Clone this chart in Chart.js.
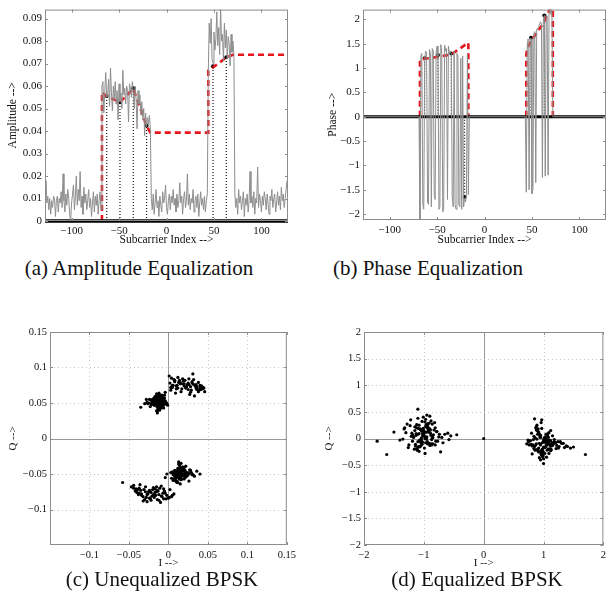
<!DOCTYPE html>
<html>
<head>
<meta charset="utf-8">
<script src="https://cdn.jsdelivr.net/npm/chart.js@4.4.1/dist/chart.umd.min.js"></script>
<style>
  body { margin: 0; background: #fff; }
  #fig { position: relative; width: 610px; height: 603px; overflow: hidden; background: #fff; }
  canvas { position: absolute; }
  .cap { position: absolute; width: 300px; text-align: center; font-family: "Liberation Serif", serif; font-size: 21px; line-height: 24px; color: #111; white-space: nowrap; }
</style>
</head>
<body>
<div id="fig">
  <canvas id="ampChart" width="300" height="250" style="left:0;top:0"></canvas>
  <canvas id="phaseChart" width="310" height="250" style="left:300px;top:0"></canvas>
  <canvas id="rawChart" width="300" height="260" style="left:0;top:320px"></canvas>
  <canvas id="eqChart" width="310" height="260" style="left:300px;top:320px"></canvas>
  <div class="cap" style="left:-11px;top:256px">(a) Amplitude Equalization</div>
  <div class="cap" style="left:278px;top:256px">(b) Phase Equalization</div>
  <div class="cap" style="left:12px;top:567px">(c) Unequalized BPSK</div>
  <div class="cap" style="left:327px;top:567px">(d) Equalized BPSK</div>
</div>
<script>
// ---- (a) amplitude per subcarrier, in thousandths ----
const ampNoiseLeft = [13,18,8,11,5,10,3,9,6,11, 10,2,9,11,4,10,8,13,6,21, 9,4,12,7,14,10,3,0,8,12, 16,5,11,20,7,14,9,22,6,11, 3,15,8,12,5,9,14,6,10,2, 8,13,4,11,7,12,3,9,13,5];
const ampBand1 = [60,62,48,58,66,55,56,63,51,68, 57,49,60,54,62,52,58,45,61,53, 57,50,67,56,59,52,60,58,44,61, 59,55,62,57,50,60,54,41,58,52, 56,47,53,45,50,38,48,42,46,43, 47,41];
const ampNoiseMid = [10,5,12,3,8,14,6,9,2,11, 7,4,13,8,10,16,6,3,9,12, 5,11,8,14,7,10,4,12,6,9, 17,8,11,3,10,13,6,9,21,7, 12,5,10,8,14,4,9,11,6,12, 2,8,13,7,10,5,11,4,9,12];
const ampBand2 = [66,88,79,90,72,70,84,76,81,93, 78,86,74,95,80,83,71,88,77,85, 72,82,79,69,83,75,80,74];
const ampNoiseRight = [12,6,10,3,14,8,11,5,9,13, 2,10,7,12,4,9,22,8,11,6, 13,3,10,8,24,6,12,9,4,11, 7,13,10,5,12,8,3,11,9,14, 6,10,12,4,8,13,7,11,5,15, 9,12,6,10,14,18];
const ampSegStart = [-128, -68, -16, 44, 72];

const ampEqX = [-68, -68, -63, -49, -35, -21, -17, 44, 44, 49, 63, 70, 128];
const ampEqY = [0, 0.0573, 0.0554, 0.0529, 0.0588, 0.0424, 0.0393, 0.0393, 0.0668, 0.0683, 0.0727, 0.0739, 0.0739];

const pilotIdx = [-63, -49, -35, -21, 49, 63];
const ampPilot = [0.0556, 0.0528, 0.059, 0.0425, 0.0688, 0.0728];

// ---- (b) phase per subcarrier ----
const phaseBand1 = [-2.1,1.25,1.3,-1.8,-1.9,1.2,1.35,1.3,-1.75,-1.8, 1.38,1.3,-1.85,1.4,1.35,-1.6,-1.7,1.3,1.45,1.25, -1.9,-1.85,1.48,1.3,-1.95,-1.9,1.47,1.35,1.4,-1.7, 1.45,1.3,1.35,1.28,-1.65,-1.85,1.35,-1.8,-1.9,1.3, 1.25,-1.8,-1.85,1.2,-1.9,1.25,-1.85,-1.67,-1.75,-1.6, 1.28,-1.6];
const phaseBand2 = [-1.55,1.45,1.6,-1.5,1.62,1.6,-1.58,-1.5,1.7,1.75, -1.35,1.8,1.8,1.85,1.9,1.95,1.9,-1.25,2.0,2.08, -1.22,2.1,2.05,-1.2,2.15,2.2,2.1,2.2];
const phaseSegStart = [-68, 44];

const phaseEq1X = [-68, -68, -63, -49, -35, -17, -17];
const phaseEq1Y = [0, 1.17, 1.19, 1.23, 1.28, 1.52, 0];
const phaseEq2X = [44, 44, 45, 49, 63, 72, 72];
const phaseEq2Y = [0, 1.28, 1.4, 1.55, 1.95, 2.35, 0];
const phasePilot = [1.2, 1.27, 1.3, -1.65, 1.62, 2.08];

// ---- (c) unequalized constellation, in thousandths ----
const rawUpperI = [-12,-15,-8,-20,-5,-10,-18,-14,-3,-22, -11,-7,-16,-13,-9,-25,-1,-19,-6,-12, -17,-10,-14,-4,-21,-8,-13,-16,-11,-27, -2,-9,-15,-18,-6,-12,-23,-10,-7,-14, -17,-11,-5,-20,-13,-8,-16,-30,-12,-9, -15,-3,-19,-10,-14,-6,-24,-11,-13,-17, -8,-35,-12,-16,-4,-9,-21,-14,-11,-18,
  -10,-13,-7,-17,-20,-9,-14,-11,-6,-16, -12,-19,-8,-15,-22,-10,-13,-5,-18,-11, -14,-9,-16,-12,-7,-20,-13,-10,-15,-8, -17,-11,-26,-6,-14,-12,-9,-19,-15,-28,
  2,5,8,11,14,17,20,23,26,29, 32,35,38,41,44,46,3,7,10,13, 16,19,22,25,28,31,34,37,40,43, 1,6,12,18,24,30,36,27,33,15, 9,21,4,39,
  5,10,15,20,25,30,35,40,45,8, 18,28,38,12,22,32,42,3,26,36];
const rawUpperQ = [52,48,55,50,57,45,53,60,51,49, 62,46,54,41,58,50,47,56,43,52, 59,55,44,53,48,61,50,57,40,51, 49,54,63,47,56,52,45,58,50,36, 53,60,48,55,46,51,59,49,54,43, 57,50,52,45,62,48,55,53,47,58, 51,44,56,50,65,49,53,38,57,52,
  50,54,49,47,55,58,51,46,53,56, 44,52,59,48,54,57,50,61,49,53, 46,56,51,42,55,50,58,47,52,60, 54,45,49,57,51,64,48,53,39,55,
  78,72,80,75,82,70,77,73,84,68, 76,71,79,69,72,66,68,83,74,79, 66,81,72,78,65,91,74,69,75,70, 88,75,71,84,76,78,73,62,60,77, 64,82,85,68,
  75,70,79,74,69,80,76,72,71,82, 77,73,66,86,71,83,74,72,76,69];
const rawLowerI = [13,10,16,8,20,5,14,18,11,24, 7,15,12,22,9,17,3,19,13,26, 10,6,21,14,16,11,28,8,13,18, 4,15,23,12,9,17,30,14,11,20, 7,16,13,25,10,19,-2,15,12,33, 18,9,14,21,11,6,16,36,13,8, 20,15,10,27,12,17,-4,14,22,40,
  12,15,9,18,21,11,14,8,17,24, 13,10,19,16,7,22,12,15,26,11, 14,18,9,20,13,16,5,23,12,17, 10,15,29,14,19,11,6,21,13,31,
  -2,-5,-8,-11,-14,-17,-20,-23,-26,-29, -32,-35,-38,-41,-44,-47,-3,-7,-10,-13, -16,-19,-22,-25,-28,-31,-34,-37,-40,0, 4,7,-6,-12,-18,-24,-30,-36,-58,-15, -21,-27,-9,2,
  -4,-9,-14,-19,-24,-29,-34,-39,-44,-12, -22,-32,-42,-6,-17,-27,-37,1,5,-15];
const rawLowerQ = [-50,-47,-53,-45,-52,-48,-56,-44,-51,-49, -58,-46,-42,-54,-50,-57,-48,-43,-53,-60, -47,-51,-55,-38,-49,-62,-45,-52,-48,-50, -56,-41,-53,-47,-59,-44,-51,-54,-46,-57, -49,-35,-52,-48,-55,-43,-50,-64,-47,-53, -40,-51,-56,-45,-52,-49,-58,-46,-33,-54, -50,-47,-61,-44,-53,-48,-55,-51,-39,-50,
  -51,-48,-54,-46,-50,-53,-45,-57,-49,-52, -55,-47,-43,-51,-58,-48,-44,-54,-50,-60, -46,-52,-56,-41,-49,-53,-47,-51,-62,-45, -54,-50,-48,-57,-44,-52,-59,-46,-36,-51,
  -80,-74,-82,-70,-86,-76,-72,-84,-78,-68, -88,-73,-79,-71,-66,-68,-85,-77,-90,-74, -80,-69,-87,-75,-83,-72,-78,-70,-76,-84, -82,-78,-71,-79,-83,-73,-86,-65,-62,-75, -81,-89,-67,-72,
  -77,-81,-73,-79,-84,-75,-80,-72,-70,-87, -76,-82,-74,-85,-71,-79,-77,-83,-80,-68];

// ---- (d) equalized constellation, in hundredths ----
const eqLeftI = [-100,-95,-105,-90,-110,-85,-115,-98,-102,-80, -120,-93,-107,-88,-112,-97,-103,-75,-125,-92, -108,-87,-113,-99,-101,-70,-130,-94,-106,-84, -116,-96,-104,-78,-122,-91,-109,-86,-114,-110, -65,-135,-97,-103,-82,-118,-89,-111,-95,-105, -60,-140,-93,-107,-99,-101,-72,-128,-90,-110, -85,-115,-98,-102,-77,-123,-94,-106,-88,-112, -55,-178,-162,-150,-68,-132,-96,-104,-81,-119,
  -98,-103,-92,-108,-96,-101,-87,-113,-94,-106, -99,-104,-83,-117,-91,-109,-100,-95,-105,-79, -121,-97,-102,-89,-111,-93,-107,-86,-114,-100, -74,-126,-96,-104,-90,-110,-92,-108,-98,-102, -45,-58,-133,-88,-112,-95,-105,-81,-119,-101];
const eqLeftQ = [5,12,-3,18,8,-10,22,0,15,-5, 10,28,-15,6,20,-8,32,3,-12,14, 25,-2,9,-18,40,2,11,-6,17,7, -20,26,-4,13,35,-9,19,1,-14,55, 8,-1,23,-11,30,4,16,-22,44,-7, 10,-3,21,-16,12,6,-25,27,-13,38, 2,15,-28,9,-5,24,-10,18,33,-19, 5,-5,-30,12,-8,20,0,14,-12,7,
  3,-6,14,9,-1,19,-12,6,24,-4, 11,-9,16,2,29,-15,7,21,-2,13, 4,36,-7,10,-20,18,-3,27,-11,15, 8,-17,22,1,42,-6,12,-24,31,5, 7,-2,18,-10,26,3,-14,20,-5,12];
const eqRightI = [100,95,105,90,110,85,115,98,102,80, 120,93,107,88,112,97,103,75,125,92, 108,87,113,99,101,130,94,106,84,116, 96,104,78,122,91,109,86,114,100,135, 97,103,82,118,89,111,95,105,140,93, 107,99,101,72,128,90,110,85,115,98, 102,145,94,106,88,112,170,100,96,104, 81,119,150,92,108,97,103,76,124,100,
  98,103,92,108,96,101,87,113,94,106, 99,104,83,117,91,109,100,95,105,79, 121,97,102,89,111,93,107,86,114,100, 74,126,96,104,90,110,92,108,98,102, 133,88,112,95,105,81,119,101,138,84];
const eqRightQ = [-5,2,-12,8,-3,-15,5,-20,0,10, -8,-25,3,-10,15,-30,-2,-6,-18,12, -7,20,-14,-33,-1,-9,7,-22,4,-11, 30,-16,-4,-13,18,-28,1,-8,-47,-17, 35,-5,-12,-2,25,-19,6,-35,-15,-9, 9,-24,-3,-10,-6,14,-21,37,-13,-26, -7,-18,3,-11,22,-4,-30,-38,-23,0, -14,-8,-16,10,-20,-29,-1,-12,-6,-27,
  -8,3,-18,-4,-27,1,-12,-21,6,-9, -32,-14,-2,-7,-24,11,-16,-40,-5,-11, -19,19,-28,-1,-13,-36,4,-22,-10,-6, -3,-15,-30,8,-20,-11,-25,2,-34,-17, -9,16,-23,-12,-4,-29,-7,-2,-14,-19];
const eqCenterI = [0];
const eqCenterQ = [0];

// ---- tick labels ----
const ampTicksY = [0, 0.01, 0.02, 0.03, 0.04, 0.05, 0.06, 0.07, 0.08, 0.09];
const subTicksX = [-100, -50, 0, 50, 100];
const phaseTicksY = [-2, -1.5, -1, -0.5, 0, 0.5, 1, 1.5, 2];
const rawTicksX = [-0.1, -0.05, 0, 0.05, 0.1, 0.15];
const rawTicksY = [-0.1, -0.05, 0, 0.05, 0.1, 0.15];
const eqTicksX = [-2, -1, 0, 1, 2];
const eqTicksY = [-2, -1.5, -1, -0.5, 0, 0.5, 1, 1.5, 2];

const SERIF = "'Liberation Serif', 'DejaVu Serif', serif";

function fmt(v) {
  const r = parseFloat(Number(v).toFixed(4));
  return r < 0 ? '\u2212' + Math.abs(r) : String(r);
}

function pts(xs, ys, k) {
  return xs.map((x, i) => ({ x: x * k, y: ys[i] * k }));
}

// frame, inward ticks and (optionally) dotted grid, matlab style
const framePlugin = {
  id: 'frame',
  beforeDatasetsDraw(chart, args, opts) {
    if (!opts.grid) return;
    const { ctx, chartArea: a, scales: { x, y } } = chart;
    ctx.save();
    ctx.lineWidth = 1;
    x.ticks.forEach(t => {
      const px = Math.round(x.getPixelForValue(t.value)) + 0.5;
      if (px <= a.left + 1 || px >= a.right - 1) return;
      ctx.strokeStyle = t.value === 0 ? '#9a9a9a' : '#c8c8c8';
      ctx.setLineDash(t.value === 0 ? [] : [1, 3]);
      ctx.beginPath(); ctx.moveTo(px, a.top); ctx.lineTo(px, a.bottom); ctx.stroke();
    });
    y.ticks.forEach(t => {
      const py = Math.round(y.getPixelForValue(t.value)) + 0.5;
      if (py <= a.top + 1 || py >= a.bottom - 1) return;
      ctx.strokeStyle = t.value === 0 ? '#9a9a9a' : '#c8c8c8';
      ctx.setLineDash(t.value === 0 ? [] : [1, 3]);
      ctx.beginPath(); ctx.moveTo(a.left, py); ctx.lineTo(a.right, py); ctx.stroke();
    });
    ctx.restore();
  },
  afterDatasetsDraw(chart) {
    const { ctx, chartArea: a, scales: { x, y } } = chart;
    ctx.save();
    ctx.strokeStyle = '#8c8c8c';
    ctx.lineWidth = 1;
    ctx.strokeRect(a.left + 0.5, a.top + 0.5, a.right - a.left - 1, a.bottom - a.top - 1);
    ctx.beginPath();
    x.ticks.forEach(t => {
      const px = Math.round(x.getPixelForValue(t.value)) + 0.5;
      ctx.moveTo(px, a.bottom); ctx.lineTo(px, a.bottom - 3);
      ctx.moveTo(px, a.top); ctx.lineTo(px, a.top + 3);
    });
    y.ticks.forEach(t => {
      const py = Math.round(y.getPixelForValue(t.value)) + 0.5;
      ctx.moveTo(a.left, py); ctx.lineTo(a.left + 3, py);
      ctx.moveTo(a.right, py); ctx.lineTo(a.right - 3, py);
    });
    ctx.stroke();
    ctx.restore();
  }
};

function xAxis(min, max, ticks, title, h, fontSize, titleSize, titlePad) {
  return {
    type: 'linear', min: min, max: max,
    grid: { display: false, drawTicks: false },
    border: { display: false },
    afterBuildTicks: s => { s.ticks = ticks.map(v => ({ value: v })); },
    afterFit: s => { s.height = h; },
    ticks: { autoSkip: false, maxRotation: 0, padding: 4, color: '#111', font: { family: SERIF, size: fontSize }, callback: fmt },
    title: { display: true, text: title, color: '#111', font: { family: SERIF, size: titleSize }, padding: { top: 0, bottom: titlePad } }
  };
}

function yAxis(min, max, ticks, title, w, fontSize, titleSize, titlePad) {
  return {
    type: 'linear', min: min, max: max,
    grid: { display: false, drawTicks: false },
    border: { display: false },
    afterBuildTicks: s => { s.ticks = ticks.map(v => ({ value: v })); },
    afterFit: s => { s.width = w; },
    ticks: { autoSkip: false, padding: 3, color: '#111', font: { family: SERIF, size: fontSize }, callback: fmt },
    title: { display: true, text: title, color: '#111', font: { family: SERIF, size: titleSize }, padding: { top: titlePad, bottom: 0 } }
  };
}

function baseOptions(pad, grid, scales) {
  return {
    responsive: false,
    animation: false,
    events: [],
    layout: { padding: pad },
    plugins: { legend: { display: false }, tooltip: { enabled: false }, frame: { grid: grid } },
    scales: scales
  };
}

function lineSet(data, color, width, dash, clip) {
  return { data: data, showLine: true, borderColor: color, borderWidth: width, borderDash: dash || [], pointRadius: 0, clip: clip === undefined ? 0 : clip };
}

function pilotLines(vals) {
  return pilotIdx.map((p, i) => lineSet([{ x: p, y: 0 }, { x: p, y: vals[i] }], '#111', 1.2, [1, 2]));
}

function dotSet(data, r) {
  return { data: data, showLine: false, pointRadius: r, pointBorderWidth: 0, pointBackgroundColor: '#000', pointBorderColor: '#000', clip: 0 };
}

// (a) amplitude
const ampParts = [ampNoiseLeft, ampBand1, ampNoiseMid, ampBand2, ampNoiseRight];
const ampPoints = [];
ampParts.forEach((vals, s) => vals.forEach((v, i) => ampPoints.push({ x: ampSegStart[s] + i, y: v / 1000 })));

new Chart(document.getElementById('ampChart'), {
  type: 'scatter',
  data: {
    datasets: [
      lineSet(ampPoints, '#8e8e8e', 1),
      ...pilotLines(ampPilot),
      lineSet([{ x: -128, y: 0 }, { x: 128, y: 0 }], '#000', 3.5, [], 4),
      lineSet(pts(ampEqX, ampEqY, 1), '#e8141c', 2.6, [6, 4]),
      dotSet(pts(pilotIdx, ampPilot, 1), 2)
    ]
  },
  options: baseOptions({ left: 0, top: 7, right: 12, bottom: 0 }, false, {
    x: xAxis(-128, 128, subTicksX, 'Subcarrier Index -->', 29, 11, 11.5, 3),
    y: yAxis(0, 0.094, ampTicksY, 'Amplitude -->', 45, 11, 11.5, 6)
  }),
  plugins: [framePlugin]
});

// (b) phase
const phasePoints = [{ x: -128, y: 0 }, { x: -69, y: 0 }];
phaseBand1.forEach((v, i) => phasePoints.push({ x: phaseSegStart[0] + i, y: v }));
phasePoints.push({ x: -16, y: 0 }, { x: 43, y: 0 });
phaseBand2.forEach((v, i) => phasePoints.push({ x: phaseSegStart[1] + i, y: v }));
phasePoints.push({ x: 72, y: 0 }, { x: 128, y: 0 });

new Chart(document.getElementById('phaseChart'), {
  type: 'scatter',
  data: {
    datasets: [
      lineSet(phasePoints, '#8e8e8e', 1),
      ...pilotLines(phasePilot),
      lineSet([{ x: -128, y: 0 }, { x: 128, y: 0 }], '#000', 3, [], 4),
      lineSet(pts(phaseEq1X, phaseEq1Y, 1), '#e8141c', 2.6, [6, 4]),
      lineSet(pts(phaseEq2X, phaseEq2Y, 1), '#e8141c', 2.6, [6, 4]),
      dotSet(pts(pilotIdx, phasePilot, 1), 2)
    ]
  },
  options: baseOptions({ left: 0, top: 7, right: 3, bottom: 0 }, false, {
    x: xAxis(-128, 128, subTicksX, 'Subcarrier Index -->', 30, 11, 11.5, 3),
    y: yAxis(-2.12, 2.2, phaseTicksY, 'Phase -->', 63, 11, 11.5, 26)
  }),
  plugins: [framePlugin]
});

// (c) unequalized BPSK
new Chart(document.getElementById('rawChart'), {
  type: 'scatter',
  data: {
    datasets: [
      dotSet(pts(rawUpperI, rawUpperQ, 0.001), 1.6),
      dotSet(pts(rawLowerI, rawLowerQ, 0.001), 1.6)
    ]
  },
  options: baseOptions({ left: 0, top: 12, right: 11, bottom: 0 }, true, {
    x: xAxis(-0.15, 0.15, rawTicksX, 'I -->', 35, 10.5, 11, 10),
    y: yAxis(-0.15, 0.15, rawTicksY, 'Q -->', 50, 10.5, 11, 7)
  }),
  plugins: [framePlugin]
});

// (d) equalized BPSK
new Chart(document.getElementById('eqChart'), {
  type: 'scatter',
  data: {
    datasets: [
      dotSet(pts(eqLeftI, eqLeftQ, 0.01), 1.6),
      dotSet(pts(eqRightI, eqRightQ, 0.01), 1.6),
      dotSet(pts(eqCenterI, eqCenterQ, 0.01), 1.6)
    ]
  },
  options: baseOptions({ left: 0, top: 12, right: 3, bottom: 0 }, true, {
    x: xAxis(-2, 2, eqTicksX, 'I -->', 35, 10.5, 11, 10),
    y: yAxis(-2, 2, eqTicksY, 'Q -->', 64, 10.5, 11, 23)
  }),
  plugins: [framePlugin]
});
</script>
</body>
</html>
